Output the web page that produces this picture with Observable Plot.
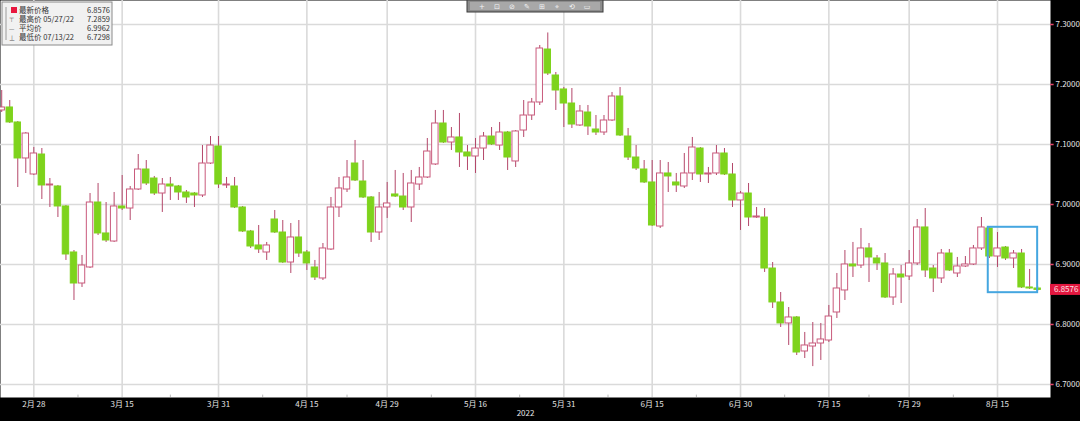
<!DOCTYPE html>
<html><head><meta charset="utf-8">
<script src="https://cdn.jsdelivr.net/npm/d3@7"></script>
<script src="https://cdn.jsdelivr.net/npm/@observablehq/plot@0.6"></script>
<style>
html,body{margin:0;padding:0;background:#000;overflow:hidden;}
#chart{width:1080px;height:421px;}
svg{display:block;}
</style></head><body><div id="chart"></div>
<script>
const year = "2022";
const dates = [
"02-22","02-23","02-24","02-25","02-28",
"03-01","03-02","03-03","03-04","03-07","03-08","03-09","03-10","03-11","03-14","03-15","03-16","03-17","03-18","03-21","03-22","03-23","03-24","03-25","03-28","03-29","03-30","03-31",
"04-01","04-04","04-05","04-06","04-07","04-08","04-11","04-12","04-13","04-14","04-15","04-18","04-19","04-20","04-21","04-22","04-25","04-26","04-27","04-28","04-29",
"05-02","05-03","05-04","05-05","05-06","05-09","05-10","05-11","05-12","05-13","05-16","05-17","05-18","05-19","05-20","05-23","05-24","05-25","05-26","05-27","05-30","05-31",
"06-01","06-02","06-03","06-06","06-07","06-08","06-09","06-10","06-13","06-14","06-15","06-16","06-17","06-20","06-21","06-22","06-23","06-24","06-27","06-28","06-29","06-30",
"07-01","07-04","07-05","07-06","07-07","07-08","07-11","07-12","07-13","07-14","07-15","07-18","07-19","07-20","07-21","07-22","07-25","07-26","07-27","07-28","07-29",
"08-01","08-02","08-03","08-04","08-05","08-08","08-09","08-10","08-11","08-12","08-15","08-16","08-17","08-18","08-19","08-22"
];
const open = [
7.1567,7.1617,7.1367,7.0767,7.0500,7.0833,7.0317,7.0300,6.9967,6.9200,
6.8683,6.8950,7.0033,6.9517,6.9383,6.9967,6.9933,7.0250,7.0583,7.0433,
7.0183,7.0333,7.0300,7.0200,7.0183,7.0150,7.0683,7.0967,7.0317,7.0300,
6.9950,6.9550,6.9317,6.9200,6.9750,6.9533,6.9033,6.9450,6.9200,6.8950,
6.8767,6.9250,6.9950,7.0250,7.0683,7.0383,7.0117,6.9533,6.9950,7.0167,
7.0133,6.9950,7.0333,7.0450,7.0667,7.1350,7.1033,7.1117,7.0867,7.0800,
7.0933,7.1133,7.0983,7.1200,7.0717,7.1233,7.1483,7.1700,7.2583,7.2150,
7.1917,7.1683,7.1317,7.1533,7.1250,7.1200,7.1400,7.1800,7.1133,7.0783,
7.0583,7.0367,6.9633,7.0517,7.0367,7.0300,7.0517,7.0933,7.0500,7.0517,
7.0850,7.0500,7.0067,7.0183,6.9783,6.9783,6.8933,6.8367,6.8017,6.8117,
6.7550,6.7633,6.7683,6.7733,6.8200,6.8567,6.9000,6.8983,6.9267,6.9100,
6.9017,6.8450,6.8833,6.8800,6.9017,6.9617,6.8933,6.8767,6.9183,6.8850,
6.8967,6.9000,6.9267,6.9600,6.9133,6.9283,6.9100,6.9183,6.8617,6.8600];
const high = [
7.1900,7.1733,7.1383,7.1200,7.0950,7.0933,7.0433,7.0317,6.9983,6.9233,
6.9150,7.0183,7.0350,7.0033,7.0200,7.0483,7.0300,7.0833,7.0733,7.0467,
7.0433,7.0450,7.0317,7.0233,7.0200,7.0983,7.1133,7.1133,7.0450,7.0450,
6.9967,6.9567,6.9650,6.9367,6.9900,6.9733,6.9683,6.9733,6.9233,6.9067,
6.9350,7.0117,7.0450,7.0733,7.1067,7.0733,7.0133,7.0200,7.0367,7.0567,
7.0517,7.0567,7.0617,7.1100,7.1567,7.1567,7.1283,7.1517,7.0983,7.1100,
7.1200,7.1283,7.1367,7.1217,7.1233,7.1733,7.1767,7.2650,7.2859,7.2200,
7.1950,7.1933,7.1650,7.1650,7.1483,7.1483,7.1867,7.1950,7.1267,7.0983,
7.0733,7.0733,7.0733,7.0700,7.0517,7.0850,7.1117,7.0950,7.0617,7.0983,
7.0933,7.0683,7.0217,7.0350,6.9950,6.9933,6.9033,6.8533,6.8283,6.8133,
6.7867,6.8033,6.8017,6.8317,6.8850,6.9233,6.9367,6.9600,6.9350,6.9150,
6.9183,6.8933,6.8983,6.9233,6.9750,6.9933,6.8983,6.9250,6.9250,6.9117,
6.9133,6.9317,6.9783,6.9617,6.9533,6.9300,6.9233,6.9250,6.8917,6.8633];
const low = [
7.1533,7.1350,7.0283,7.0517,7.0483,7.0083,6.9950,6.9783,6.9067,6.8400,
6.8617,6.8933,6.9483,6.9367,6.9367,6.9900,6.9733,7.0233,7.0317,7.0150,
6.9867,7.0067,7.0067,7.0017,6.9950,7.0117,7.0667,7.0267,7.0267,6.9933,
6.9533,6.9267,6.9183,6.9067,6.9517,6.9017,6.8850,6.9117,6.8900,6.8733,
6.8733,6.9233,6.9783,7.0200,7.0383,7.0100,6.9367,6.9400,6.9767,7.0117,
6.9900,6.9700,7.0233,7.0433,7.0650,7.1017,7.0900,7.0617,7.0567,7.0517,
7.0733,7.0983,7.0900,7.0567,7.0617,7.1117,7.1400,7.1650,7.2150,7.1567,
7.1283,7.1267,7.1300,7.1150,7.1150,7.1150,7.1383,7.1133,7.0733,7.0567,
7.0350,6.9633,6.9600,7.0200,7.0200,7.0267,7.0400,7.0367,7.0350,7.0483,
7.0483,6.9950,6.9567,6.9633,6.9767,6.8867,6.8267,6.7950,6.7650,6.7483,
6.7433,6.7298,6.7400,6.7700,6.8100,6.8400,6.8783,6.8933,6.8700,6.8900,
6.8433,6.8317,6.8350,6.8733,6.8983,6.8783,6.8533,6.8683,6.8883,6.8783,
6.8950,6.8983,6.9233,6.9100,6.8950,6.9067,6.8933,6.8600,6.8583,6.8550];
const close = [
7.1617,7.1367,7.0767,7.1183,7.0850,7.0317,7.0333,6.9967,6.9167,6.8683,
6.8983,7.0033,6.9517,6.9400,6.9967,6.9933,7.0250,7.0583,7.0350,7.0183,
7.0333,7.0300,7.0200,7.0117,7.0150,7.0683,7.0983,7.0333,7.0333,6.9950,
6.9550,6.9300,6.9250,6.9317,6.9533,6.9033,6.9450,6.9183,6.9017,6.8783,
6.9267,6.9950,7.0267,7.0450,7.0400,7.0117,6.9533,6.9950,7.0017,7.0133,
6.9950,7.0350,7.0450,7.0883,7.1350,7.1033,7.1117,7.0867,7.0800,7.0933,
7.1133,7.1000,7.1200,7.0783,7.1217,7.1483,7.1700,7.2600,7.2183,7.1900,
7.1683,7.1333,7.1550,7.1300,7.1200,7.1400,7.1800,7.1150,7.0783,7.0600,
7.0367,6.9650,7.0517,7.0467,7.0317,7.0517,7.0950,7.0500,7.0517,7.0850,
7.0500,7.0067,7.0183,6.9783,6.9800,6.8933,6.8367,6.8017,6.8117,6.7533,
6.7650,6.7683,6.7750,6.8133,6.8600,6.9000,6.8967,6.9267,6.9117,6.9017,
6.8450,6.8833,6.8783,6.9017,6.9617,6.8900,6.8767,6.9183,6.8900,6.8967,
6.9000,6.9267,6.9617,6.9133,6.9267,6.9100,6.9183,6.8617,6.8600,6.8576];

const tickDates = ["02-28","03-15","03-31","04-15","04-29","05-16","05-31","06-15","06-30","07-15","07-29","08-15"];
const tickLabels = ["2月 28","3月 15","3月 31","4月 15","4月 29","5月 16","5月 31","6月 15","6月 30","7月 15","7月 29","8月 15"];
const priceTicks = [6.7, 6.8, 6.9, 7.0, 7.1, 7.2, 7.3];
const highlight = {from: "08-12", to: "08-22", low: 6.853, high: 6.962};
const legendLabels = ["最新价格", "最高价 05/27/22", "平均价", "最低价 07/13/22"];
const legendValues = ["6.8576", "7.2859", "6.9962", "6.7298"];

const rows = dates.map((d, i) => ({i, date: d, open: open[i], high: high[i], low: low[i], close: close[i]}));
const idx = d => dates.indexOf(d);
const ticks = tickDates.map((d, k) => ({i: idx(d), label: tickLabels[k]}));
const minor = ticks.slice(0, -1).map((t, k) => ({i: (t.i + ticks[k + 1].i) / 2}));
const xDomain = [-0.15, 130.6];
const yDomain = [6.6783, 7.34];
const up = d => d.close >= d.open;
const GREEN = "#7ed31c";
const WICK = "#b4476a";
const HOLLOW = "#c95a7c";
const FONT = "'Noto Sans CJK SC', 'DejaVu Sans', sans-serif";

const chart = Plot.plot({
  width: 1080, height: 421,
  marginLeft: 0, marginRight: 30, marginTop: 0, marginBottom: 24,
  x: {type: "linear", domain: xDomain, axis: null},
  y: {type: "linear", domain: yDomain, axis: null},
  style: {background: "#000", fontFamily: FONT},
  marks: [
    Plot.frame({fill: "#fff", stroke: "none"}),
    Plot.ruleY(priceTicks, {stroke: "#dadada", strokeWidth: 1.6}),
    Plot.ruleX(ticks, {x: "i", stroke: "#dadada", strokeWidth: 1.6}),
    Plot.ruleX(minor, {x: "i", y1: yDomain[0], y2: yDomain[0] + 0.004, stroke: "#bbb", strokeWidth: 1}),
    Plot.ruleX(rows, {x: "i", y1: "low", y2: "high", stroke: WICK, strokeWidth: 1}),
    Plot.rect(rows, {
      x1: d => d.i - 0.4, x2: d => d.i + 0.4, y1: "open", y2: "close",
      fill: d => up(d) ? "#fff" : GREEN,
      stroke: d => up(d) ? HOLLOW : GREEN, strokeWidth: 1
    }),
    Plot.rect([highlight], {
      x1: d => idx(d.from) - 0.15, x2: d => idx(d.to), y1: "low", y2: "high",
      fill: "none", stroke: "#45a6e0", strokeWidth: 2
    }),
    Plot.ruleY(priceTicks, {x1: xDomain[1], x2: xDomain[1] + 0.45, stroke: "#e0486e", strokeWidth: 1.5}),
    Plot.text(priceTicks, {x: xDomain[1], y: d => d, text: d => d.toFixed(4), dx: 5, textAnchor: "start", fill: "#e4e4e4", fontSize: 8}),
    Plot.text(ticks, {x: "i", y: yDomain[0], text: "label", dy: 7, fill: "#e4e4e4", fontSize: 8}),
    Plot.text([year], {x: (xDomain[0] + xDomain[1]) / 2, y: yDomain[0], text: d => d, dy: 16, fill: "#e4e4e4", fontSize: 8})
  ]
});
document.getElementById("chart").appendChild(chart);

// decorations using the chart's own scales
const sx = chart.scale("x"), sy = chart.scale("y");
const svg = d3.select(chart);
const last = rows[rows.length - 1];
const ly = sy.apply(last.close);
const xr = sx.apply(xDomain[1]);
const pl = svg.append("g").attr("text-anchor", "start");
pl.append("rect").attr("x", xr).attr("y", ly - 5.5).attr("width", 30).attr("height", 11).attr("fill", "#e3173f");
pl.append("text").attr("x", xr + 4).attr("y", ly + 3).attr("fill", "#fde0e6").attr("text-anchor", "start")
  .attr("font-size", 8).attr("font-family", FONT).text(last.close.toFixed(4));

// toolbar at top
const tb = svg.append("g");
tb.append("rect").attr("x", 467).attr("y", 0).attr("width", 136).attr("height", 12).attr("fill", "#8c8c8c").attr("stroke", "#3a3a3a");
tb.append("rect").attr("x", 470).attr("y", 2).attr("width", 130).attr("height", 8).attr("fill", "#a8a8a8");
["+", "⊡", "⊘", "✎", "⊞", "⌖", "⟲", "▭"].forEach((g, k) => {
  tb.append("text").attr("x", 482 + k * 15).attr("y", 9).attr("text-anchor", "middle")
    .attr("font-size", 7).attr("fill", "#f4f4f4").attr("font-family", "DejaVu Sans").text(g);
});

// legend box
const lg = svg.append("g").attr("font-family", FONT).attr("font-size", 7.5).attr("fill", "#333").attr("text-anchor", "start");
lg.append("rect").attr("x", 2).attr("y", 2).attr("width", 110).attr("height", 43).attr("fill", "#f1f1f1").attr("stroke", "#8a8a8a");
lg.append("line").attr("x1", 6).attr("x2", 6).attr("y1", 7).attr("y2", 40).attr("stroke", "#9a9a9a");
lg.append("rect").attr("x", 11).attr("y", 7).attr("width", 6).attr("height", 6).attr("fill", "#e8173f");
const sym = ["", "⊤", "—", "⊥"];
legendLabels.forEach((t, k) => {
  const y = 13 + k * 9;
  if (sym[k]) lg.append("text").attr("x", 9).attr("y", y).attr("fill", "#555").attr("font-size", 6).attr("text-anchor", "start").text(sym[k]);
  lg.append("text").attr("x", 19).attr("y", y).attr("text-anchor", "start").text(t);
  lg.append("text").attr("x", 110).attr("y", y).attr("text-anchor", "end").text(legendValues[k]);
});
</script></body></html>
